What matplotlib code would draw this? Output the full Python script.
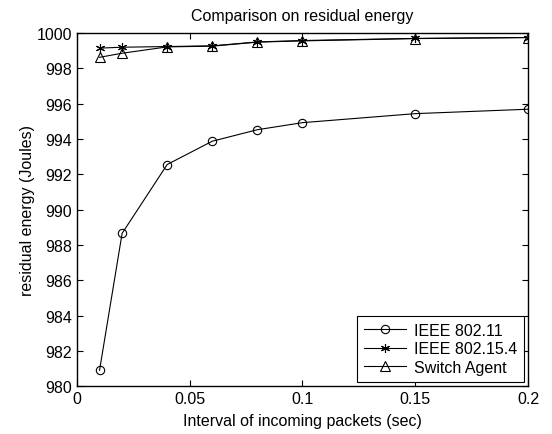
import matplotlib
matplotlib.use("Agg")
import matplotlib.pyplot as plt

plt.rcParams['font.family'] = ['Liberation Sans', 'DejaVu Sans']

intervals = [0.01, 0.02, 0.04, 0.06, 0.08, 0.1, 0.15, 0.2]
ieee80211 = [980.9, 988.65, 992.55, 993.87, 994.52, 994.92, 995.43, 995.68]
ieee802154 = [999.14, 999.19, 999.23, 999.27, 999.49, 999.57, 999.69, 999.74]
switch_agent = [998.62, 998.85, 999.21, 999.25, 999.48, 999.55, 999.68, 999.74]
labels = ['IEEE 802.11', 'IEEE 802.15.4', 'Switch Agent']

fs = 11.5

fig = plt.figure(figsize=(5.52, 4.35), dpi=100)
ax = fig.add_axes([0.1395, 0.110, 0.817, 0.812])

ax.plot(intervals, ieee80211, color='black', lw=0.8, marker='o', ms=6,
        mfc='none', mec='black', mew=0.8, label=labels[0])
ax.plot(intervals, ieee802154, color='black', lw=0.8, marker=(6, 2, 0), ms=6.5,
        mfc='none', mec='black', mew=0.8, label=labels[1])
ax.plot(intervals, switch_agent, color='black', lw=0.8, marker='^', ms=7,
        mfc='none', mec='black', mew=0.8, label=labels[2])

ax.set_xlim(0, 0.2)
ax.set_ylim(980, 1000)
ax.set_xticks([0, 0.05, 0.1, 0.15, 0.2])
ax.set_xticklabels(['0', '0.05', '0.1', '0.15', '0.2'])
ax.set_yticks(range(980, 1001, 2))
ax.tick_params(direction='in', top=True, right=True, labelsize=fs, length=4, width=0.8)
for s in ax.spines.values():
    s.set_linewidth(1.0)

ax.set_title('Comparison on residual energy', fontsize=fs, pad=9)
ax.set_xlabel('Interval of incoming packets (sec)', fontsize=fs, labelpad=5)
ax.set_ylabel('residual energy (Joules)', fontsize=fs, labelpad=1)

leg = ax.legend(loc='lower right', fontsize=fs, fancybox=False, framealpha=1,
                edgecolor='black', borderaxespad=0.25, handlelength=2.6,
                labelspacing=0.22, borderpad=0.45, handletextpad=0.5)
leg.get_frame().set_linewidth(0.8)

fig.savefig('out.png', dpi=100)
